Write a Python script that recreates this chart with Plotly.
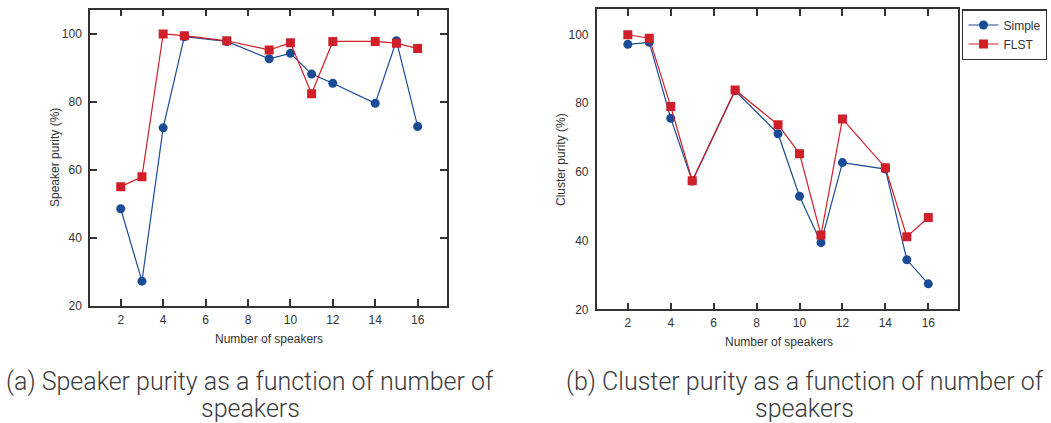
import plotly.graph_objects as go

speakers = [2, 3, 4, 5, 7, 9, 10, 11, 12, 14, 15, 16]
speaker_purity_simple = [48.6, 27.3, 72.4, 99.2, 97.8, 92.7, 94.3, 88.2, 85.5, 79.6, 98.0, 72.8]
speaker_purity_flst = [55.1, 58.0, 100.0, 99.5, 98.0, 95.3, 97.4, 82.4, 97.8, 97.8, 97.3, 95.7]
cluster_purity_simple = [97.1, 97.7, 75.6, 57.3, 83.6, 71.1, 52.9, 39.4, 62.7, 60.8, 34.4, 27.4]
cluster_purity_flst = [99.9, 98.9, 79.0, 57.4, 83.8, 73.7, 65.3, 41.6, 75.4, 61.2, 41.1, 46.7]

x_ticks = [2, 4, 6, 8, 10, 12, 14, 16]
y_ticks = [20, 40, 60, 80, 100]
y_ticks_right_marks = [100, 76.6, 53.2, 29.8]

BLUE = "#1b4b95"
RED = "#cf1f29"
AX = "#333333"
FONT = "Liberation Sans, Arial, sans-serif"
CAP = dict(family="Roboto", size=25, color="#3a3a3a", weight=300)

fig = go.Figure()

def add_pair(simple, flst, xa, ya, show):
    fig.add_trace(go.Scatter(x=speakers, y=simple, mode="lines+markers", name="Simple",
                             line=dict(color=BLUE, width=1.2),
                             marker=dict(symbol="circle", size=9, color=BLUE),
                             xaxis=xa, yaxis=ya, showlegend=show))
    fig.add_trace(go.Scatter(x=speakers, y=flst, mode="lines+markers", name="FLST",
                             line=dict(color=RED, width=1.2),
                             marker=dict(symbol="square", size=9, color=RED),
                             xaxis=xa, yaxis=ya, showlegend=show))

add_pair(speaker_purity_simple, speaker_purity_flst, "x", "y", False)
add_pair(cluster_purity_simple, cluster_purity_flst, "x2", "y2", True)

W, H = 1051, 423
def px(v): return v / W
def py(v): return 1 - v / H

axis_common = dict(showline=True, linecolor=AX, linewidth=1.5, mirror="ticks",
                   ticks="inside", ticklen=7, tickwidth=1.5, tickcolor=AX,
                   showgrid=False, zeroline=False,
                   tickfont=dict(family=FONT, size=12, color=AX))

xrange_ = [0.55, 17.37]
fig.update_layout(
    width=W, height=H,
    margin=dict(l=0, r=0, t=0, b=0, autoexpand=False),
    paper_bgcolor="white", plot_bgcolor="white",
    showlegend=True,
    xaxis=dict(domain=[px(90), px(446.7)], range=xrange_, tickvals=x_ticks, anchor="y",
               ticklabelstandoff=2, **axis_common),
    yaxis=dict(domain=[py(306), py(9.5)], range=[20, 107.2], tickvals=y_ticks, anchor="x",
               ticklabelstandoff=4, **axis_common),
    xaxis2=dict(domain=[px(596.7), px(957.7)], range=xrange_, tickvals=x_ticks, anchor="y2",
                ticklabelstandoff=2, **axis_common),
    yaxis2=dict(domain=[py(309.3), py(9.3)], range=[20, 107.3], tickvals=y_ticks, anchor="x2",
                ticklabelstandoff=4,
                **{**axis_common, "ticks": "", "mirror": True}),
    yaxis3=dict(domain=[py(309.3), py(9.3)], range=[20, 107.3], tickvals=y_ticks_right_marks,
                anchor="x2", overlaying="y2", side="left", showticklabels=False,
                showline=False, mirror="ticks", ticks="inside", ticklen=7, tickwidth=1.5,
                tickcolor=AX, showgrid=False, zeroline=False),
    legend=dict(x=px(962.3), y=py(9.3), xanchor="left", yanchor="top",
                bordercolor=AX, borderwidth=1.2, bgcolor="white",
                font=dict(family=FONT, size=12, color=AX),
                itemwidth=30, tracegroupgap=0, entrywidth=100),
)

annos = [
    dict(text="Speaker purity (%)", x=px(55), y=py(158), textangle=-90,
         font=dict(family=FONT, size=12, color=AX)),
    dict(text="Number of speakers", x=px(269), y=py(339),
         font=dict(family=FONT, size=12, color=AX)),
    dict(text="Cluster purity (%)", x=px(561), y=py(160), textangle=-90,
         font=dict(family=FONT, size=12, color=AX)),
    dict(text="Number of speakers", x=px(779), y=py(342),
         font=dict(family=FONT, size=12, color=AX)),
    dict(text="(a) Speaker purity as a function of number of", x=px(250), y=py(381), font=CAP),
    dict(text="speakers", x=px(250), y=py(408), font=CAP),
    dict(text="(b) Cluster purity as a function of number of", x=px(805), y=py(381), font=CAP),
    dict(text="speakers", x=px(805), y=py(408), font=CAP),
]
for a in annos:
    fig.add_annotation(xref="paper", yref="paper", showarrow=False,
                       xanchor="center", yanchor="middle", **a)

fig.write_html("out.html", config={"displayModeBar": False},
               post_script="document.body.style.margin='0';document.body.style.overflow='hidden';")
